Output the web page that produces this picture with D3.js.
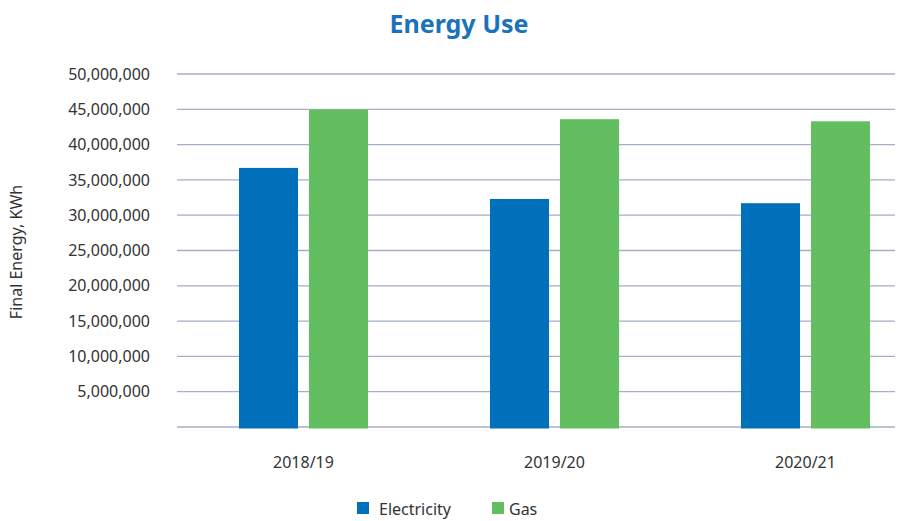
<!DOCTYPE html>
<html>
<head>
<meta charset="utf-8">
<script src="https://cdn.jsdelivr.net/npm/d3@7"></script>
<style>
  body { margin: 0; background: #fff; }
  text { font-family: "Noto Sans", sans-serif; }
</style>
</head>
<body>
<div id="chart"></div>
<script>
// data
let years = ["2018/19", "2019/20", "2020/21"];
let series = ["Electricity", "Gas"];
let electricity = [36700000, 32300000, 31700000];
let gas = [44950000, 43600000, 43300000];
let yTicks = [0, 5000000, 10000000, 15000000, 20000000, 25000000, 30000000, 35000000, 40000000, 45000000, 50000000];
let colors = ["#0070ba", "#63be60"];

function init() {
    let width = 897, height = 521;
    let svg = d3.select("#chart").append("svg")
        .attr("width", width)
        .attr("height", height);

    let margin = {left: 178, right: -34, top: 74, bottom: 94};

    // rows for drawing
    let data = years.map((y, i) => ({year: y, Electricity: electricity[i], Gas: gas[i]}));

    let x = d3.scaleBand()
        .domain(years)
        .range([margin.left, width - margin.right])
        .paddingInner(0.486)
        .paddingOuter(0.243);
    let xInner = d3.scaleBand()
        .domain(series)
        .range([0, x.bandwidth()])
        .paddingInner(0.157);
    let y = d3.scaleLinear()
        .domain([0, 50000000])
        .range([height - margin.bottom, margin.top]);
    let color = d3.scaleOrdinal().domain(series).range(colors);

    // gridlines
    svg.append("g")
        .selectAll("line")
        .data(yTicks)
        .join("line")
        .attr("x1", 177)
        .attr("x2", 895)
        .attr("y1", d => y(d))
        .attr("y2", d => y(d))
        .attr("stroke", "#a4aec7")
        .attr("stroke-width", 1.3);

    // y tick labels
    svg.append("g")
        .selectAll("text")
        .data(yTicks.filter(d => d > 0))
        .join("text")
        .attr("x", 150)
        .attr("y", d => y(d))
        .attr("dy", "0.35em")
        .attr("text-anchor", "end")
        .attr("fill", "#333")
        .style("font-size", "16px")
        .text(d => d3.format(",")(d));

    // bars
    svg.append("g")
        .selectAll("g")
        .data(data)
        .join("g")
        .attr("transform", d => "translate(" + x(d.year) + ",0)")
        .selectAll("rect")
        .data(d => series.map(s => ({key: s, value: d[s]})))
        .join("rect")
        .attr("x", d => xInner(d.key))
        .attr("width", xInner.bandwidth())
        .attr("y", d => y(d.value))
        .attr("height", d => y(0) - y(d.value) + 1.5)
        .attr("fill", d => color(d.key));

    // x labels
    svg.append("g")
        .selectAll("text")
        .data(years)
        .join("text")
        .attr("x", d => x(d) + x.bandwidth() / 2)
        .attr("y", 468)
        .attr("text-anchor", "middle")
        .attr("fill", "#333")
        .style("font-size", "16px")
        .text(d => d);

    // y axis title
    svg.append("text")
        .attr("transform", "translate(22,252) rotate(-90)")
        .attr("text-anchor", "middle")
        .attr("fill", "#333")
        .style("font-size", "16px")
        .text("Final Energy, KWh");

    // title
    svg.append("text")
        .attr("x", 459)
        .attr("y", 33)
        .attr("text-anchor", "middle")
        .attr("fill", "#1a73b9")
        .style("font-size", "25px")
        .style("font-weight", "bold")
        .text("Energy Use");

    // legend
    let legendX = [357, 492];
    let legend = svg.append("g")
        .selectAll("g")
        .data(series)
        .join("g")
        .attr("transform", (d, i) => "translate(" + legendX[i] + ",502)");
    legend.append("rect")
        .attr("width", 12)
        .attr("height", 12)
        .attr("fill", d => color(d));
    legend.append("text")
        .attr("x", d => d === "Gas" ? 17 : 22)
        .attr("y", 13)
        .attr("fill", "#333")
        .style("font-size", "16px")
        .text(d => d);
}
window.onload = init;
</script>
</body>
</html>
